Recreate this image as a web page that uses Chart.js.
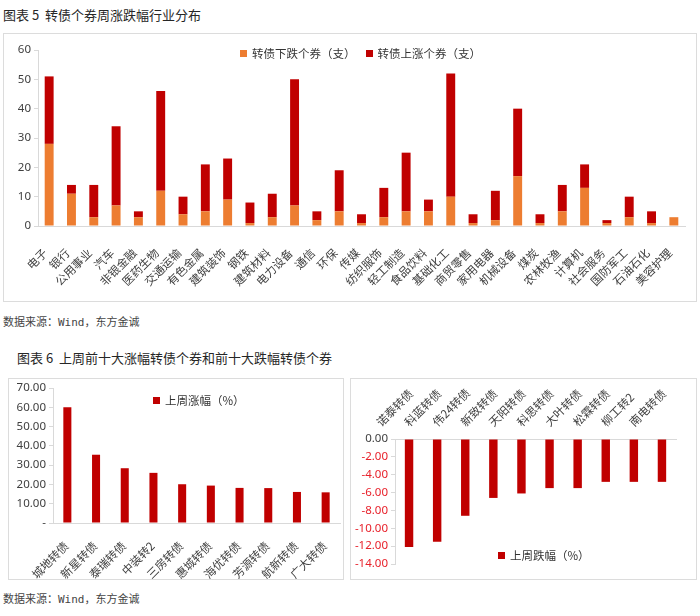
<!DOCTYPE html>
<html>
<head>
<meta charset="utf-8">
<script src="https://cdn.jsdelivr.net/npm/chart.js@4.4.1/dist/chart.umd.min.js"></script>
<style>
  body { margin: 0; width: 700px; height: 616px; background: #fff; position: relative; overflow: hidden; font-family: 'Noto Sans CJK SC', 'Noto Sans CJK JP', sans-serif; -webkit-font-smoothing: antialiased; }
  .title { position: absolute; font-size: 13px; line-height: 16px; color: #262626; white-space: nowrap; }
  .source { position: absolute; font-family: 'DejaVu Sans Mono', 'Noto Sans CJK SC', monospace; font-size: 11px; line-height: 14px; color: #444; white-space: nowrap; }
  .box { position: absolute; border: 1px solid #dcdcdc; box-sizing: border-box; }
  .box canvas { position: absolute; left: 0; top: 0; }
  .legend { position: absolute; display: flex; align-items: center; font-size: 11.5px; line-height: 16px; color: #333; white-space: nowrap; z-index: 2; }
  .legend .item { display: flex; align-items: center; margin-right: 10px; }
  .legend .sw { display: inline-block; width: 7px; height: 7px; margin-right: 5px; }
</style>
</head>
<body>
<div class="title" style="left:3px; top:7px;">图表 5&nbsp; 转债个券周涨跌幅行业分布</div>
<div class="box" style="left:3px; top:33px; width:694px; height:269px;">
  <canvas id="industryChart" width="692" height="267"></canvas>
</div>
<div class="legend" id="industryLegend" style="left:240px; top:45px;"></div>
<div class="source" style="left:3px; top:316px;">数据来源：Wind，东方金诚</div>

<div class="title" style="left:17px; top:350px;">图表 6&nbsp; 上周前十大涨幅转债个券和前十大跌幅转债个券</div>
<div class="box" style="left:8px; top:378px; width:336px; height:202px;">
  <canvas id="gainChart" width="334" height="200"></canvas>
</div>
<div class="legend" id="gainLegend" style="left:153px; top:392px;"></div>
<div class="box" style="left:350px; top:378px; width:347px; height:202px;">
  <canvas id="lossChart" width="345" height="200"></canvas>
</div>
<div class="legend" id="lossLegend" style="left:498px; top:547px;"></div>
<div class="source" style="left:3px; top:593px;">数据来源：Wind，东方金诚</div>

<script>
// 图表5 数据
const industries = ['电子', '银行', '公用事业', '汽车', '非银金融', '医药生物', '交通运输', '有色金属', '建筑装饰', '钢铁',
  '建筑材料', '电力设备', '通信', '环保', '传媒', '纺织服饰', '轻工制造', '食品饮料', '基础化工', '商贸零售',
  '家用电器', '机械设备', '煤炭', '农林牧渔', '计算机', '社会服务', '国防军工', '石油石化', '美容护理']
const fallCounts = [28, 11, 3, 7, 3, 12, 4, 5, 9, 1, 3, 7, 2, 5, 1, 3, 5, 5, 10, 1, 2, 17, 1, 5, 13, 1, 3, 1, 3]
const riseCounts = [23, 3, 11, 27, 2, 34, 6, 16, 14, 7, 8, 43, 3, 14, 3, 10, 20, 4, 42, 3, 10, 23, 3, 9, 8, 1, 7, 4, 0]
const countTicks = { min: 0, max: 60, step: 10 }

// 图表6 数据
const gainBonds = ['城地转债', '新星转债', '泰瑞转债', '中装转2', '三房转债', '惠城转债', '海优转债', '芳源转债', '航新转债', '广大转债']
const gainPct = [60.0, 35.4, 28.4, 26.0, 20.1, 19.4, 18.2, 18.1, 16.1, 15.9]
const gainTicks = { min: 0, max: 70, step: 10 }
const lossBonds = ['诺泰转债', '科蓝转债', '伟24转债', '新致转债', '天阳转债', '科思转债', '大叶转债', '松霖转债', '柳工转2', '南电转债']
const lossPct = [-12.1, -11.5, -8.6, -6.6, -6.1, -5.5, -5.5, -4.8, -4.8, -4.8]
const lossTicks = { min: -14, max: 0, step: 2 }

const orange = '#ED7D31'
const red = '#C00000'
const axisGray = '#d9d9d9'
const textDark = '#404040'
const negRed = '#E8202A'
const tickFont = { family: "'Noto Sans', 'Noto Sans CJK SC', sans-serif", size: 11.5 }
const labelFont = { family: "'Noto Sans CJK SC', 'Noto Sans CJK JP', sans-serif", size: 11.5 }

// fix scale box sizes so the plot area lands where the reference has it
function fixBox(width, height) {
  return (scale) => {
    if (width != null) scale.width = width
    if (height != null) scale.height = height
    scale.paddingLeft = 0
    scale.paddingRight = 0
    scale.paddingTop = 0
    scale.paddingBottom = 0
  }
}

function yAxis({ min, max, step }, width, extra = {}) {
  return {
    min,
    max,
    ticks: { stepSize: step, font: tickFont, color: textDark, padding: 3, ...extra },
    grid: { drawOnChartArea: false, tickLength: 4, color: axisGray },
    border: { color: axisGray },
    afterFit: fixBox(width, null),
  }
}

function xAxis(height, extra = {}) {
  return {
    grid: { display: false },
    border: { color: axisGray },
    ticks: { autoSkip: false, minRotation: 45, maxRotation: 45, font: labelFont, color: textDark, ...extra },
    afterFit: fixBox(null, height),
  }
}

function buildLegend(id, chart) {
  const el = document.getElementById(id)
  chart.data.datasets.forEach((ds) => {
    const item = document.createElement('div')
    item.className = 'item'
    item.innerHTML = `<span class="sw" style="background:${ds.backgroundColor}"></span>${ds.label}`
    el.appendChild(item)
  })
}

const baseOptions = {
  responsive: false,
  animation: false,
  plugins: { legend: { display: false }, tooltip: { enabled: false } },
}

const industryChart = new Chart(document.getElementById('industryChart'), {
  type: 'bar',
  data: {
    labels: industries,
    datasets: [
      { label: '转债下跌个券（支）', data: fallCounts, backgroundColor: orange, barPercentage: 0.4, categoryPercentage: 1 },
      { label: '转债上涨个券（支）', data: riseCounts, backgroundColor: red, barPercentage: 0.4, categoryPercentage: 1 },
    ],
  },
  options: {
    ...baseOptions,
    layout: { padding: { left: 0, top: 16, right: 11, bottom: 0 } },
    scales: {
      x: { ...xAxis(75, { padding: 12, labelOffset: -4 }), stacked: true },
      y: { ...yAxis(countTicks, 34), stacked: true },
    },
  },
})
buildLegend('industryLegend', industryChart)

const gainChart = new Chart(document.getElementById('gainChart'), {
  type: 'bar',
  data: {
    labels: gainBonds,
    datasets: [{ label: '上周涨幅（%）', data: gainPct, backgroundColor: red, barPercentage: 0.28, categoryPercentage: 1 }],
  },
  options: {
    ...baseOptions,
    layout: { padding: { left: 0, top: 9, right: 3, bottom: 0 } },
    scales: {
      x: xAxis(56, { padding: 8, labelOffset: -1 }),
      y: yAxis(gainTicks, 44, { callback: (v) => (v === 0 ? '-' : v.toFixed(2)) }),
    },
  },
})
buildLegend('gainLegend', gainChart)

const lossChart = new Chart(document.getElementById('lossChart'), {
  type: 'bar',
  data: {
    labels: lossBonds,
    datasets: [{ label: '上周跌幅（%）', data: lossPct, backgroundColor: red, barPercentage: 0.3, categoryPercentage: 1 }],
  },
  options: {
    ...baseOptions,
    layout: { padding: { left: 0, top: 0, right: 20, bottom: 15 } },
    scales: {
      x: { ...xAxis(60, { padding: 2, labelOffset: -21 }), position: 'top' },
      y: yAxis(lossTicks, 44, {
        callback: (v) => v.toFixed(2),
        color: (ctx) => (ctx.tick && ctx.tick.value < 0 ? negRed : textDark),
      }),
    },
  },
})
buildLegend('lossLegend', lossChart)
</script>
</body>
</html>
